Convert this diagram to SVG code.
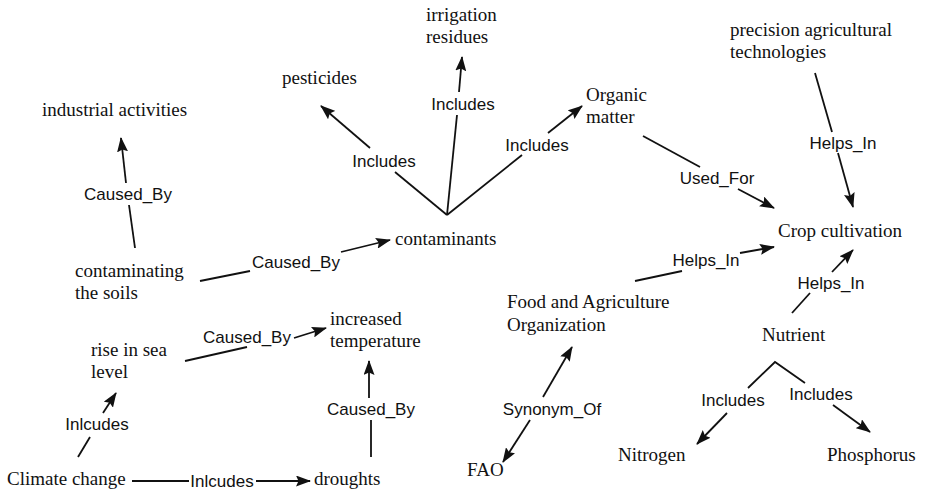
<svg xmlns="http://www.w3.org/2000/svg" width="925" height="492" viewBox="0 0 925 492">
<defs>
<marker id="ah" viewBox="0 0 15 11" refX="14" refY="5.5" markerWidth="15" markerHeight="11" markerUnits="userSpaceOnUse" orient="auto">
<path d="M0,0 L15,5.5 L0,11 L2.5,5.5 z" fill="#111"/>
</marker>
<style>
.n{font-family:"Liberation Serif","Times New Roman",serif;font-size:19px;fill:#111}
.l{font-family:"Liberation Sans",Arial,sans-serif;font-size:17px;fill:#111;text-anchor:middle}
.e line{stroke:#111;stroke-width:1.8;fill:none}
.e line.a{marker-end:url(#ah)}
</style>
</defs>
<rect width="925" height="492" fill="#fff"/>
<g id="connectors" class="e">
<line x1="135" y1="248" x2="129" y2="205"/><line class="a" x1="126" y1="183" x2="121" y2="138"/>
<line x1="200" y1="281" x2="250" y2="271"/><line class="a" x1="341" y1="252" x2="390" y2="240"/>
<line x1="447" y1="215" x2="395" y2="172"/><line class="a" x1="370" y1="148" x2="321" y2="106"/>
<line x1="447" y1="215" x2="457" y2="115"/><line class="a" x1="459" y1="92" x2="462" y2="57"/>
<line x1="447" y1="215" x2="522" y2="155"/><line class="a" x1="548" y1="133" x2="582" y2="106"/>
<line x1="643" y1="136" x2="700" y2="167"/><line class="a" x1="738" y1="189" x2="774" y2="208"/>
<line x1="815" y1="73" x2="832" y2="132"/><line class="a" x1="838" y1="153" x2="853" y2="207"/>
<line x1="635" y1="281" x2="682" y2="271"/><line class="a" x1="740" y1="253" x2="774" y2="247"/>
<line x1="792" y1="313" x2="810" y2="293"/><line class="a" x1="832" y1="272" x2="853" y2="250"/>
<polyline points="748,388 775,362 805,383" style="stroke:#111;stroke-width:1.8;fill:none"/>
<line class="a" x1="727" y1="413" x2="697" y2="444"/>
<line class="a" x1="833" y1="405" x2="870" y2="432"/>
<line class="a" x1="543" y1="397" x2="572" y2="347"/>
<line class="a" x1="530" y1="420" x2="503" y2="462"/>
<line x1="78" y1="457" x2="90" y2="437"/><line class="a" x1="103" y1="413" x2="116" y2="393"/>
<line x1="132" y1="481" x2="189" y2="481"/><line class="a" x1="256" y1="481" x2="310" y2="481"/>
<line x1="371" y1="457" x2="371" y2="420"/><line class="a" x1="369" y1="398" x2="369" y2="361"/>
<line x1="185" y1="361" x2="247" y2="347"/><line class="a" x1="294" y1="338" x2="326" y2="328"/>
<text class="l" x="128" y="200">Caused_By</text>
<text class="l" x="296" y="268">Caused_By</text>
<text class="l" x="384" y="167">Includes</text>
<text class="l" x="463" y="110">Includes</text>
<text class="l" x="537" y="151">Includes</text>
<text class="l" x="717" y="184">Used_For</text>
<text class="l" x="843" y="149">Helps_In</text>
<text class="l" x="706" y="266">Helps_In</text>
<text class="l" x="831" y="289">Helps_In</text>
<text class="l" x="733" y="406">Includes</text>
<text class="l" x="821" y="400">Includes</text>
<text class="l" x="552" y="415">Synonym_Of</text>
<text class="l" x="97" y="430">Inlcudes</text>
<text class="l" x="222" y="487">Inlcudes</text>
<text class="l" x="371" y="415">Caused_By</text>
<text class="l" x="247" y="343">Caused_By</text>
</g>
<g id="industrial"><text class="n" x="42" y="116">industrial activities</text></g>
<g id="pesticides"><text class="n" x="282" y="84">pesticides</text></g>
<g id="irrigation"><text class="n" x="426" y="21">irrigation</text><text class="n" x="426" y="43">residues</text></g>
<g id="organic"><text class="n" x="586" y="101">Organic</text><text class="n" x="586" y="123">matter</text></g>
<g id="precision"><text class="n" x="730" y="36">precision agricultural</text><text class="n" x="730" y="58">technologies</text></g>
<g id="crop"><text class="n" x="778" y="237">Crop cultivation</text></g>
<g id="contaminants"><text class="n" x="395" y="245">contaminants</text></g>
<g id="soils"><text class="n" x="75" y="277">contaminating</text><text class="n" x="75" y="299">the soils</text></g>
<g id="temperature"><text class="n" x="330" y="325">increased</text><text class="n" x="330" y="347">temperature</text></g>
<g id="sealevel"><text class="n" x="91" y="356">rise in sea</text><text class="n" x="91" y="378">level</text></g>
<g id="climate"><text class="n" x="7" y="485">Climate change</text></g>
<g id="droughts"><text class="n" x="314" y="485">droughts</text></g>
<g id="fao-org"><text class="n" x="507" y="308">Food and Agriculture</text><text class="n" x="507" y="331">Organization</text></g>
<g id="nutrient"><text class="n" x="762" y="341">Nutrient</text></g>
<g id="nitrogen"><text class="n" x="618" y="461">Nitrogen</text></g>
<g id="phosphorus"><text class="n" x="827" y="461">Phosphorus</text></g>
<g id="fao"><text class="n" x="467" y="476">FAO</text></g>
</svg>
